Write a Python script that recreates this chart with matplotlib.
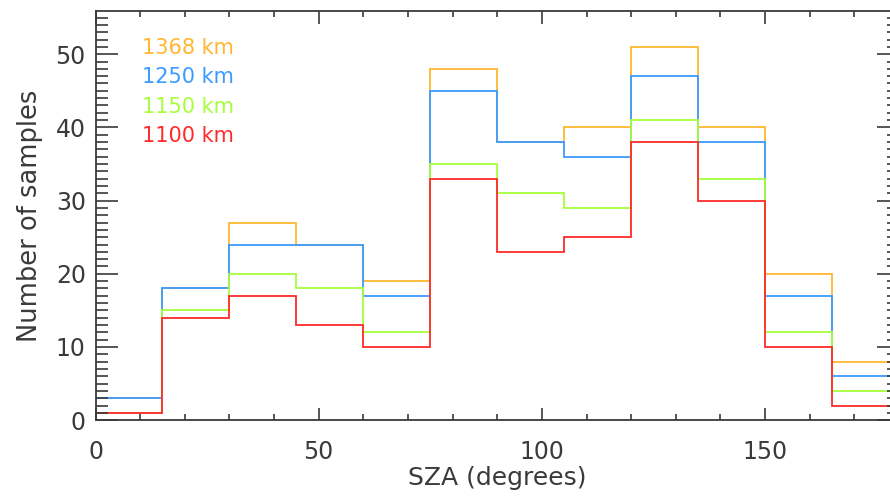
import numpy as np
import matplotlib
matplotlib.use("Agg")
import matplotlib.pyplot as plt
from matplotlib.ticker import MultipleLocator

plt.rcParams['font.family'] = ['DejaVu Sans']

# SZA histogram bins (degrees) and sample counts per altitude
sza_edges = [0, 15, 30, 45, 60, 75, 90, 105, 120, 135, 150, 165, 180]
counts_1368 = [3, 18, 27, 24, 19, 48, 38, 40, 51, 40, 20, 8]
counts_1250 = [3, 18, 24, 24, 17, 45, 38, 36, 47, 38, 17, 6]
counts_1150 = [1, 15, 20, 18, 12, 35, 31, 29, 41, 33, 12, 4]
counts_1100 = [1, 14, 17, 13, 10, 33, 23, 25, 38, 30, 10, 2]
labels = ['1368 km', '1250 km', '1150 km', '1100 km']

ORANGE = '#FFB630'
BLUE = '#3A9BFF'
GREEN = '#A6FF3A'
RED = '#FF2A2A'
INK = '#3a3a3a'

W, H = 890, 504
fig = plt.figure(figsize=(W / 100, H / 100), dpi=100, facecolor='white')
# axes box in pixels: left 95.5, right ~899 (x=180 falls just past the edge), top 11, bottom 420
ax = fig.add_axes([95.5 / W, 1 - 420.2 / H, (899 - 95.5) / W, (420.2 - 11) / H])

series = [counts_1368, counts_1250, counts_1150, counts_1100]
colors = [ORANGE, BLUE, GREEN, RED]
for vals, c in zip(series, colors):
    ax.stairs(vals, sza_edges, color=c, lw=1.3, baseline=None)

ax.set_xlim(0, 180)
ax.set_ylim(0, 55.9)

ax.xaxis.set_major_locator(MultipleLocator(50))
ax.xaxis.set_minor_locator(MultipleLocator(10))
ax.yaxis.set_major_locator(MultipleLocator(10))
ax.yaxis.set_minor_locator(MultipleLocator(1))

ax.tick_params(axis='both', which='both', direction='in', colors=INK,
               top=True, right=True, width=1.2)
ax.tick_params(axis='y', which='major', length=16, labelsize=17, pad=7)
ax.tick_params(axis='y', which='minor', length=8.5)
ax.tick_params(axis='x', which='major', length=9, labelsize=17, pad=14)
ax.tick_params(axis='x', which='minor', length=4.5)
for lab in ax.get_xticklabels() + ax.get_yticklabels():
    lab.set_color(INK)
for s in ax.spines.values():
    s.set_color(INK)
    s.set_linewidth(1.3)

ax.set_xlabel('SZA (degrees)', fontsize=18, color=INK, labelpad=2)
ax.set_ylabel('Number of samples', fontsize=18.5, color=INK, labelpad=9)

# altitude key, coloured text
for i, (lab, c) in enumerate(zip(labels, colors)):
    fig.text(142 / W, 1 - (48 + i * 29.3) / H, lab, color=c, fontsize=15,
             ha='left', va='center')

fig.savefig('out.png', dpi=100, facecolor='white')
